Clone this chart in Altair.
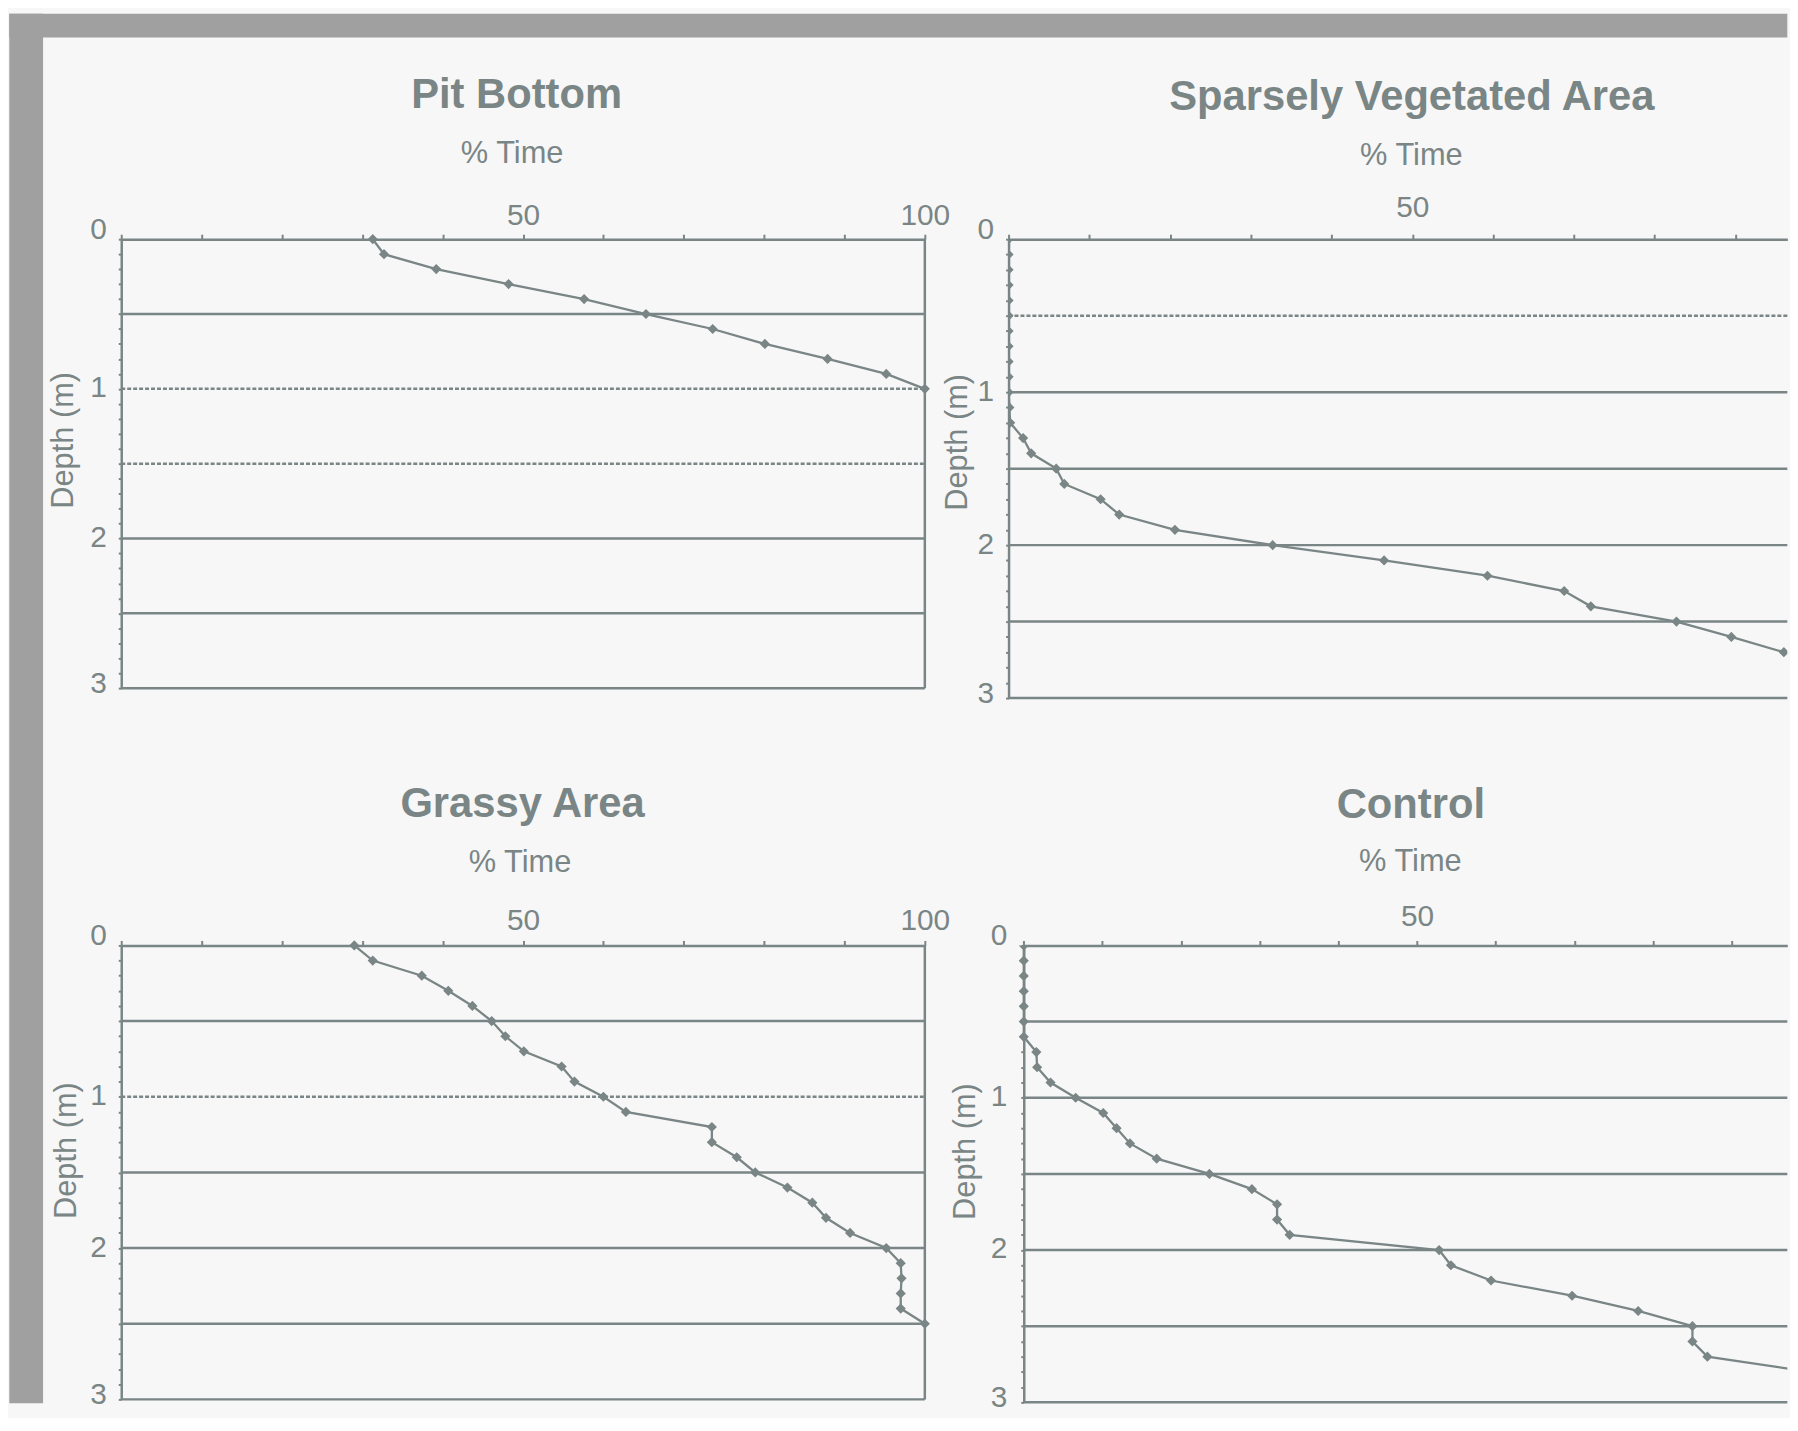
import altair as alt
import pandas as pd

INK = "#7a8585"
PAPER = "#f7f7f7"
STONE = "#a0a0a0"
FONT = "Liberation Sans"

# ---------------- data ----------------
titles = ["Pit Bottom", "Sparsely Vegetated Area", "Grassy Area", "Control"]
x_title = "% Time"
y_title = "Depth (m)"

pit_depth = [0.0, 0.1, 0.2, 0.3, 0.4, 0.5, 0.6, 0.7, 0.8, 0.9, 1.0]
pit_pct = [31.3, 32.7, 39.2, 48.2, 57.6, 65.3, 73.6, 80.1, 87.9, 95.2, 100.0]

sparse_depth = [0.0, 0.1, 0.2, 0.3, 0.4, 0.5, 0.6, 0.7, 0.8, 0.9, 1.0, 1.1, 1.2,
                1.3, 1.4, 1.5, 1.6, 1.7, 1.8, 1.9, 2.0, 2.1, 2.2, 2.3, 2.4, 2.5, 2.6, 2.7]
sparse_pct = [0.0, 0.0, 0.0, 0.0, 0.0, 0.0, 0.0, 0.0, 0.0, 0.0, 0.0, 0.1, 0.2,
              1.8, 2.8, 5.9, 6.9, 11.4, 13.7, 20.6, 32.7, 46.5, 59.3, 68.8, 72.1, 82.7, 89.5, 96.0]

grassy_depth = [0.0, 0.1, 0.2, 0.3, 0.4, 0.5, 0.6, 0.7, 0.8, 0.9, 1.0, 1.1, 1.2,
                1.3, 1.4, 1.5, 1.6, 1.7, 1.8, 1.9, 2.0, 2.1, 2.2, 2.3, 2.4, 2.5]
grassy_pct = [29.0, 31.3, 37.4, 40.7, 43.7, 46.1, 47.8, 50.1, 54.8, 56.4, 60.0, 62.8, 73.5,
              73.5, 76.6, 78.9, 82.9, 86.0, 87.7, 90.7, 95.2, 97.0, 97.1, 97.0, 97.0, 100.0]

control_depth = [0.0, 0.1, 0.2, 0.3, 0.4, 0.5, 0.6, 0.7, 0.8, 0.9, 1.0, 1.1, 1.2, 1.3, 1.4,
                 1.5, 1.6, 1.7, 1.8, 1.9, 2.0, 2.1, 2.2, 2.3, 2.4, 2.5, 2.6, 2.7, 2.8]
control_pct = [0.0, 0.0, 0.0, 0.0, 0.0, 0.0, 0.0, 1.6, 1.7, 3.4, 6.6, 10.1, 11.8, 13.5, 16.9,
               23.6, 29.0, 32.2, 32.2, 33.8, 52.8, 54.3, 59.4, 69.7, 78.1, 85.0, 85.0, 86.9, 100.0]

# horizontal reference lines (solid / dotted as they appear)
pit_solid = [0.5, 2.0, 2.5, 3.0]
pit_dotted = [1.0, 1.5]
sparse_solid = [1.0, 1.5, 2.0, 2.5, 3.0]
sparse_dotted = [0.5]
grassy_solid = [0.5, 1.5, 2.0, 2.5, 3.0]
grassy_dotted = [1.0]
control_solid = [0.5, 1.0, 1.5, 2.0, 2.5, 3.0]
control_dotted = []

x_ticks = [0, 10, 20, 30, 40, 50, 60, 70, 80, 90, 100]
x_labelled = [50, 100]
y_ticks = [round(i * 0.1, 1) for i in range(31)]
y_labelled = [0, 1, 2, 3]

# ---------------- layout (pixels, relative to each plot) ----------------
LAYOUT = {
    "pit": dict(w=809, h=452, xmax=100, x0=0, title_x=398, title_y=-132,
                lab_pad=10, xt_x=393, xt_y=-77, yt_x=-58, yt_y=202, ylab_pad=12),
    "sparse": dict(w=784, h=462, xmax=96.43, x0=0, title_x=406, title_y=-130,
                   lab_pad=18, xt_x=405, xt_y=-75, yt_x=-51, yt_y=204, ylab_pad=12),
    "grassy": dict(w=809, h=457, xmax=100, x0=0, title_x=404, title_y=-129,
                   lab_pad=11.5, xt_x=401, xt_y=-74, yt_x=-55, yt_y=206, ylab_pad=12),
    "control": dict(w=784, h=460, xmax=97.06, x0=15.3, title_x=405, title_y=-128,
                    lab_pad=14.6, xt_x=404, xt_y=-75, yt_x=-59, yt_y=207, ylab_pad=14),
}

ONE = pd.DataFrame({"k": [0]})


def panel(title, pct, depth, solid, dotted, L, frame_right, clip, strips=False):
    sc = dict(domain=[0, L["xmax"]], nice=False, zero=False)
    if L["x0"]:
        sc["range"] = [L["x0"], L["w"]]
    xs = alt.Scale(**sc)
    ys = alt.Scale(domain=[0, 3], reverse=True, nice=False, zero=False)

    xa = alt.Axis(
        orient="top", values=[v for v in x_ticks if v <= L["xmax"]],
        labelExpr="indexof(%s, datum.value) >= 0 ? datum.label : ''" % str(x_labelled),
        labelFlush=False, labelOverlap=False, labelBaseline="alphabetic",
        labelPadding=L["lab_pad"], tickSize=5, title=x_title,
        titleX=L["xt_x"], titleY=L["xt_y"], titleAlign="center",
        titleBaseline="alphabetic", titleAngle=0,
    )
    y_kw = dict(
        orient="left", values=y_ticks, format=".0f",
        labelExpr="indexof(%s, datum.value) >= 0 ? datum.label : ''" % str(y_labelled),
        labelFlush=False, labelOverlap=False, labelBaseline="middle",
        labelOffset={"condition": [{"test": "datum.value == 0", "value": -10},
                                   {"test": "datum.value == 3", "value": -5}],
                     "value": -1},
        labelPadding=L["ylab_pad"], tickSize=3, title=y_title,
        titleX=L["yt_x"], titleY=L["yt_y"], titleAngle=270, titleAlign="center",
        titleBaseline="middle",
    )
    if L["x0"]:
        y_kw["offset"] = -L["x0"]
    ya = alt.Axis(**y_kw)

    clip_kw = {"clip": True} if clip else {}
    df = pd.DataFrame({"pct": pct, "depth": depth})
    layers = []

    if strips:
        layers.append(alt.Chart(ONE).mark_rect(color=STONE).encode(
            x=alt.value(-112.7), x2=alt.value(-78.7), y=alt.value(-227), y2=alt.value(1172)))
        layers.append(alt.Chart(ONE).mark_rect(color=STONE).encode(
            x=alt.value(-112.7), x2=alt.value(1677.3), y=alt.value(-227), y2=alt.value(-203)))

    layers.append(alt.Chart(pd.DataFrame({"depth": solid})).mark_rule(
        color=INK, strokeWidth=2.5).encode(
        y=alt.Y("depth:Q", scale=ys, axis=ya),
        x=alt.XDatum(0, scale=xs, axis=xa), x2=alt.X2Datum(L["xmax"])))
    if dotted:
        layers.append(alt.Chart(pd.DataFrame({"depth": dotted})).mark_rule(
            color=INK, strokeWidth=2.5, strokeDash=[4, 2]).encode(
            y=alt.Y("depth:Q", scale=ys, axis=ya),
            x=alt.XDatum(0, scale=xs, axis=xa), x2=alt.X2Datum(L["xmax"])))
    if frame_right:
        layers.append(alt.Chart(ONE).mark_rule(color=INK, strokeWidth=2.5).encode(
            x=alt.XDatum(100, scale=xs, axis=xa),
            y=alt.YDatum(0, scale=ys, axis=ya), y2=alt.Y2Datum(3)))

    layers.append(alt.Chart(df).mark_line(color=INK, strokeWidth=2.3, **clip_kw).encode(
        x=alt.X("pct:Q", scale=xs, axis=xa),
        y=alt.Y("depth:Q", scale=ys, axis=ya),
        order="depth:Q"))
    layers.append(alt.Chart(df).mark_point(
        shape="diamond", filled=True, size=105, color=INK, opacity=1, **clip_kw).encode(
        x=alt.X("pct:Q", scale=xs, axis=xa),
        y=alt.Y("depth:Q", scale=ys, axis=ya)))
    layers.append(alt.Chart(pd.DataFrame({"t": [title]})).mark_text(
        font=FONT, fontSize=42, fontWeight="bold", color=INK,
        align="center", baseline="alphabetic").encode(
        text="t:N", x=alt.value(L["title_x"]), y=alt.value(L["title_y"])))

    return alt.layer(*layers).properties(width=L["w"], height=L["h"])


pit = panel(titles[0], pit_pct, pit_depth, pit_solid, pit_dotted, LAYOUT["pit"], True, False, strips=True)
sparse = panel(titles[1], sparse_pct, sparse_depth, sparse_solid, sparse_dotted, LAYOUT["sparse"], False, True)
grassy = panel(titles[2], grassy_pct, grassy_depth, grassy_solid, grassy_dotted, LAYOUT["grassy"], True, False)
control = panel(titles[3], control_pct, control_depth, control_solid, control_dotted, LAYOUT["control"], False, True)

chart = alt.concat(
    pit, sparse, grassy, control,
    columns=2, bounds="flush", spacing={"row": 249, "column": 84.3},
).properties(padding=0).configure(
    background=PAPER, font=FONT
).configure_view(
    stroke="transparent"
).configure_axis(
    domainColor=INK, domainWidth=2.5, tickColor=INK, tickWidth=2,
    labelColor=INK, titleColor=INK, labelFont=FONT, titleFont=FONT,
    labelFontSize=30, titleFontSize=31, titleFontWeight="normal", grid=False,
)

chart.save("out.html", embed_options={"renderer": "svg", "actions": False})
